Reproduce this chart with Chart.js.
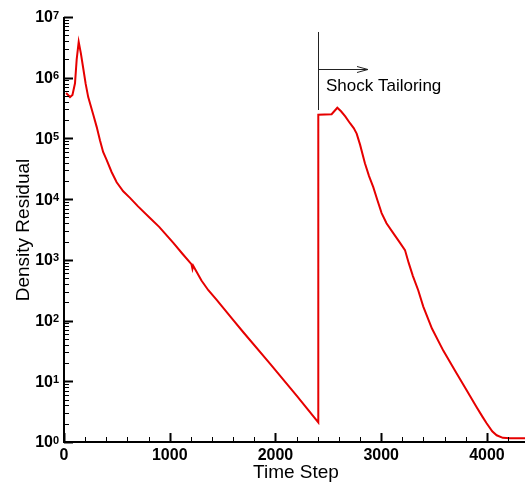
<!DOCTYPE html>
<html>
<head>
<meta charset="utf-8">
<title>Density Residual</title>
<script src="https://cdn.jsdelivr.net/npm/chart.js@4"></script>
<style>
  html, body { margin: 0; padding: 0; background: #fff; }
  #wrap { width: 525px; height: 483px; }
</style>
</head>
<body>
<div id="wrap"><canvas id="residualChart" width="525" height="483"></canvas></div>
<script>
// Data
const timeStep = [20, 57, 80, 104, 120, 139, 160, 180, 205, 229, 277, 309, 340, 370, 404, 450, 498, 560, 624, 700, 813,
  900, 1034, 1120, 1205, 1215, 1222, 1300, 1365, 1444, 1601, 1700, 1948, 2200, 2405,
  2405, 2531, 2585, 2620, 2660, 2705, 2740, 2768, 2800, 2846, 2885, 2925, 2965, 3004, 3050, 3114, 3170, 3225, 3260, 3300,
  3350, 3398, 3480, 3587, 3700, 3808, 3900, 3960, 3997, 4050, 4092, 4150, 4217, 4360];
const residual = [5.6e5, 4.8e5, 5.2e5, 8.1e5, 2.0e6, 3.9e6, 2.5e6, 1.5e6, 7.9e5, 4.8e5, 2.45e5, 1.55e5, 9.3e4, 6.0e4, 4.4e4, 2.8e4, 1.9e4, 1.35e4, 1.05e4, 7.6e3, 4.9e3,
  3.5e3, 1.9e3, 1.26e3, 850, 710, 800, 457, 316, 219, 102, 63, 19.5, 5.8, 2.1,
  2.45e5, 2.5e5, 3.2e5, 2.8e5, 2.3e5, 1.78e5, 1.48e5, 1.2e5, 7.9e4, 3.9e4, 2.4e4, 1.58e4, 9.5e3, 5.9e3, 4.0e3, 2.75e3, 2.0e3, 1.45e3, 890, 540,
  316, 170, 74, 32, 14.8, 7.1, 3.8, 2.57, 2.04, 1.5, 1.29, 1.17, 1.15, 1.15];

// Axis ticks
const xMajorTicks = [0, 1000, 2000, 3000, 4000];
const xMinorStep = 200;
const yDecades = [0, 1, 2, 3, 4, 5, 6, 7];

// Annotation (data coordinates)
const noteLabel = 'Shock Tailoring';
const noteX = 2405;
const noteLineTop = Math.pow(10, 6.753);
const noteLineBottom = Math.pow(10, 5.468);
const noteArrowY = Math.pow(10, 6.139);
const noteArrowEnd = 2875;
const noteTextX = 2478;
const noteTextY = Math.pow(10, 5.773);

const FONT = '"Liberation Sans", Arial, Helvetica, sans-serif';

// Draws axes, inward ticks, labels and the annotation
const axesPlugin = {
  id: 'axesPlugin',
  afterDraw(chart) {
    const ctx = chart.ctx;
    const xs = chart.scales.x;
    const ys = chart.scales.y;
    const area = chart.chartArea;

    ctx.save();
    ctx.strokeStyle = '#000';
    ctx.fillStyle = '#000';

    // axis lines
    ctx.lineWidth = 2;
    ctx.beginPath();
    ctx.moveTo(area.left, area.top);
    ctx.lineTo(area.left, area.bottom);
    ctx.lineTo(area.right, area.bottom);
    ctx.stroke();

    // x ticks
    for (let v = 0; v <= xs.max; v += xMinorStep) {
      const px = Math.round(xs.getPixelForValue(v)) + 0.5;
      const major = xMajorTicks.includes(v);
      ctx.lineWidth = major ? 2 : 1;
      ctx.beginPath();
      ctx.moveTo(px, area.bottom);
      ctx.lineTo(px, area.bottom - (major ? 9 : 5));
      ctx.stroke();
    }

    // y ticks (log)
    yDecades.forEach(d => {
      for (let m = 1; m <= 9; m++) {
        if (m > 1 && d === yDecades[yDecades.length - 1]) break;
        const py = Math.round(ys.getPixelForValue(m * Math.pow(10, d))) + 0.5;
        const major = m === 1;
        ctx.lineWidth = major ? 2 : 1;
        ctx.beginPath();
        ctx.moveTo(area.left, py);
        ctx.lineTo(area.left + (major ? 9 : 5), py);
        ctx.stroke();
      }
    });

    // x tick labels
    ctx.font = 'bold 16px ' + FONT;
    ctx.textAlign = 'center';
    ctx.textBaseline = 'alphabetic';
    xMajorTicks.forEach(v => {
      ctx.fillText(String(v), xs.getPixelForValue(v), area.bottom + 18);
    });

    // y tick labels with superscript exponents
    yDecades.forEach(d => {
      const py = ys.getPixelForValue(Math.pow(10, d));
      ctx.font = 'bold 16px ' + FONT;
      ctx.textAlign = 'right';
      ctx.textBaseline = 'middle';
      ctx.fillText('10', 53, py + 1);
      ctx.font = 'bold 11px ' + FONT;
      ctx.textAlign = 'left';
      ctx.textBaseline = 'top';
      ctx.fillText(String(d), 53, py - 7);
    });

    // axis titles
    ctx.font = '19px ' + FONT;
    ctx.textAlign = 'center';
    ctx.textBaseline = 'alphabetic';
    ctx.fillText('Time Step', 296, 478);
    ctx.save();
    ctx.translate(29, 230);
    ctx.rotate(-Math.PI / 2);
    ctx.fillText('Density Residual', 0, 0);
    ctx.restore();

    // annotation
    const ax = xs.getPixelForValue(noteX);
    ctx.strokeStyle = '#222';
    ctx.lineWidth = 1;
    ctx.beginPath();
    ctx.moveTo(Math.round(ax) + 0.5, ys.getPixelForValue(noteLineTop));
    ctx.lineTo(Math.round(ax) + 0.5, ys.getPixelForValue(noteLineBottom));
    ctx.stroke();
    const ay = Math.round(ys.getPixelForValue(noteArrowY)) + 0.5;
    const ex = xs.getPixelForValue(noteArrowEnd);
    ctx.beginPath();
    ctx.moveTo(ax, ay);
    ctx.lineTo(ex, ay);
    ctx.moveTo(ex - 11, ay - 3);
    ctx.lineTo(ex, ay);
    ctx.lineTo(ex - 11, ay + 3);
    ctx.stroke();
    ctx.font = '17px ' + FONT;
    ctx.textAlign = 'left';
    ctx.textBaseline = 'alphabetic';
    ctx.fillStyle = '#000';
    ctx.fillText(noteLabel, xs.getPixelForValue(noteTextX), ys.getPixelForValue(noteTextY));

    ctx.restore();
  }
};

const ctx = document.getElementById('residualChart').getContext('2d');
const residualChart = new Chart(ctx, {
  type: 'line',
  data: {
    datasets: [{
      label: 'Density Residual',
      data: timeStep.map((t, i) => ({ x: t, y: residual[i] })),
      borderColor: '#e60000',
      borderWidth: 2,
      pointRadius: 0,
      tension: 0,
      fill: false
    }]
  },
  options: {
    responsive: false,
    animation: false,
    layout: { padding: { left: 64, top: 17, right: 0, bottom: 41 } },
    plugins: {
      legend: { display: false },
      tooltip: { enabled: false }
    },
    scales: {
      x: { type: 'linear', min: 0, max: 4360, display: false },
      y: { type: 'logarithmic', min: 1, max: 1e7, display: false }
    }
  },
  plugins: [axesPlugin]
});
</script>
</body>
</html>
